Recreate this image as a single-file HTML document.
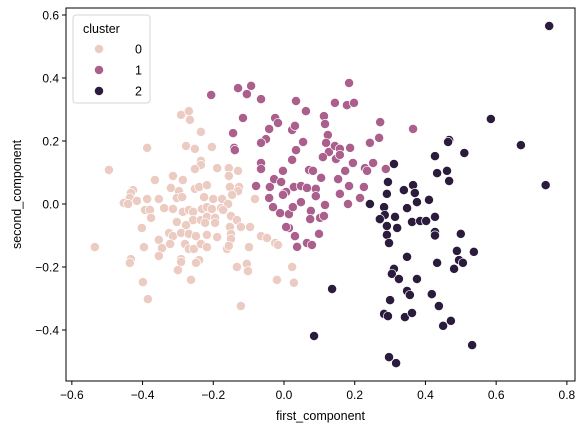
<!DOCTYPE html>
<html><head><meta charset="utf-8"><style>
body{margin:0;background:#fff;}
svg{display:block;font-family:"Liberation Sans","DejaVu Sans",sans-serif;}
</style></head><body>
<svg id="chart" width="584" height="433"></svg>
<script>
const xTicks=[-0.6,-0.4,-0.2,0.0,0.2,0.4,0.6,0.8];
const yTicks=[-0.4,-0.2,0.0,0.2,0.4,0.6];
const clusterLabels=["0","1","2"];
const clusterColors=["#eccbc2","#aa5f8c","#2b1c3d"];
const c0x=[-0.291,-0.269,-0.266,-0.235,-0.387,-0.277,-0.252,-0.204,-0.495,-0.235,-0.235,-0.252,-0.189,-0.156,-0.13,-0.156,-0.314,-0.365,-0.286,-0.32,-0.297,-0.252,-0.24,-0.218,-0.153,-0.127,-0.13,-0.427,-0.433,-0.436,-0.453,-0.441,-0.416,-0.387,-0.354,-0.303,-0.288,-0.226,-0.2,-0.175,-0.147,-0.082,-0.393,-0.379,-0.339,-0.314,-0.286,-0.269,-0.257,-0.232,-0.218,-0.204,-0.178,-0.158,-0.172,-0.376,-0.257,-0.235,-0.218,-0.195,-0.15,-0.133,-0.402,-0.303,-0.277,-0.223,-0.195,-0.153,-0.122,-0.096,-0.325,-0.314,-0.291,-0.269,-0.249,-0.218,-0.189,-0.15,-0.15,-0.354,-0.065,-0.048,-0.535,-0.396,-0.345,-0.322,-0.28,-0.269,-0.255,-0.235,-0.218,-0.161,-0.156,-0.099,-0.025,-0.017,-0.354,-0.433,-0.436,-0.291,-0.291,-0.24,-0.249,-0.133,-0.105,-0.102,-0.3,-0.263,-0.399,-0.02,-0.385,-0.122,0.023,0.028];
const c0y=[0.283,0.295,0.267,0.229,0.178,0.184,0.175,0.181,0.108,0.137,0.124,0.111,0.114,0.114,0.105,0.089,0.089,0.076,0.076,0.051,0.041,0.048,0.054,0.06,0.054,0.054,0.041,0.044,0.035,0.019,0.003,0.0,0.01,0.016,0.016,0.019,0.022,0.022,0.016,0.016,0.029,0.016,-0.019,-0.019,-0.013,-0.016,-0.025,-0.019,-0.025,-0.016,-0.01,-0.016,-0.013,0.0,-0.019,-0.044,-0.051,-0.051,-0.041,-0.044,-0.038,-0.051,-0.076,-0.057,-0.067,-0.06,-0.06,-0.073,-0.073,-0.073,-0.092,-0.102,-0.092,-0.095,-0.102,-0.098,-0.105,-0.095,-0.111,-0.114,-0.102,-0.108,-0.137,-0.137,-0.14,-0.127,-0.127,-0.143,-0.143,-0.127,-0.137,-0.143,-0.133,-0.137,-0.124,-0.13,-0.165,-0.175,-0.187,-0.175,-0.184,-0.178,-0.187,-0.2,-0.19,-0.213,-0.21,-0.241,-0.248,-0.241,-0.302,-0.324,-0.2,-0.25];
const c1x=[-0.206,-0.13,-0.093,-0.105,-0.065,-0.116,-0.144,-0.141,-0.139,-0.065,-0.065,-0.079,-0.04,-0.028,-0.003,-0.042,-0.031,-0.011,0.014,0.025,0.0,0.006,-0.003,0.028,0.048,0.065,0.048,0.071,0.082,0.105,0.09,0.09,0.116,0.076,0.074,0.102,0.113,0.014,0.031,0.037,0.065,0.079,0.099,0.023,0.034,0.054,0.023,0.031,-0.042,-0.051,-0.065,-0.025,-0.017,0.034,0.062,0.113,0.116,0.124,0.119,0.127,0.11,0.144,0.158,0.147,0.158,0.187,0.195,0.173,0.153,0.184,0.158,0.181,0.226,0.229,0.252,0.243,0.269,0.272,0.144,0.178,0.198,0.184,0.365,0.288,0.235,0.215,-0.008,0.006];
const c1y=[0.346,0.368,0.375,0.349,0.333,0.273,0.225,0.178,0.171,0.13,0.111,0.057,0.054,0.079,0.105,0.019,-0.01,-0.029,-0.032,-0.01,0.035,0.038,0.029,0.054,0.057,0.051,0.006,0.108,0.105,0.083,0.048,0.025,-0.003,-0.022,-0.048,-0.044,-0.038,-0.076,-0.102,-0.136,-0.124,-0.13,-0.095,0.14,0.171,0.197,0.235,0.248,0.238,0.206,0.194,0.273,0.257,0.327,0.295,0.279,0.254,0.219,0.194,0.165,0.149,0.184,0.175,0.143,0.156,0.178,0.13,0.105,0.079,0.057,0.032,0.0,0.054,0.114,0.13,0.194,0.21,0.26,0.321,0.314,0.321,0.384,0.238,0.111,0.105,0.019,0.07,-0.073];
const c2x=[0.75,0.585,0.67,0.74,0.467,0.464,0.51,0.427,0.433,0.461,0.467,0.311,0.294,0.365,0.339,0.37,0.291,0.243,0.376,0.41,0.348,0.283,0.285,0.271,0.314,0.362,0.385,0.402,0.427,0.291,0.32,0.291,0.297,0.427,0.427,0.5,0.489,0.537,0.495,0.506,0.481,0.433,0.348,0.311,0.305,0.325,0.376,0.136,0.348,0.356,0.418,0.3,0.438,0.283,0.294,0.342,0.362,0.472,0.45,0.085,0.532,0.297,0.317];
const c2y=[0.565,0.27,0.187,0.06,0.203,0.197,0.162,0.152,0.098,0.105,0.073,0.127,0.07,0.06,0.044,0.035,0.032,0.0,0.006,0.013,-0.013,-0.01,-0.035,-0.048,-0.041,-0.057,-0.054,-0.054,-0.041,-0.07,-0.076,-0.098,-0.124,-0.089,-0.1,-0.095,-0.149,-0.152,-0.178,-0.187,-0.206,-0.187,-0.168,-0.206,-0.222,-0.238,-0.238,-0.27,-0.276,-0.289,-0.286,-0.305,-0.324,-0.349,-0.356,-0.359,-0.346,-0.371,-0.387,-0.419,-0.448,-0.486,-0.505];

const NS="http://www.w3.org/2000/svg";
const svg=document.getElementById('chart');
const L=66,T=8,R=575,B=381;
function sx(v){return 284+v*353.6;}
function sy(v){return 204-v*315;}
function mk(tag,attrs,parent){const e=document.createElementNS(NS,tag);for(const k in attrs)e.setAttribute(k,attrs[k]);(parent||svg).appendChild(e);return e;}

const pts=mk('g',{});


const series=[[c0x,c0y],[c1x,c1y],[c2x,c2y]];
series.forEach((s,ci)=>{
  const g=mk('g',{},pts);
  
  
  s[0].forEach((xv,i)=>{
    const c=mk('circle',{cx:sx(xv),cy:sy(s[1][i]),r:4.6,fill:clusterColors[ci],stroke:'#fff','stroke-width':0.7},g);
    
    
  });
});

const frame=mk('rect',{x:L,y:T,width:R-L,height:B-T,fill:'none',stroke:'#000','stroke-width':1});



xTicks.forEach(t=>{
  const x=sx(t);
  const ln=mk('line',{x1:x,x2:x,y1:B,y2:B+4,stroke:'#000'});
  
  
  const tx=mk('text',{x:x,y:B+18,'text-anchor':'middle','font-size':12,fill:'#000'});
  tx.textContent=t.toFixed(1).replace('-','\u2212');
  
  
});
yTicks.forEach(t=>{
  const y=sy(t);
  const ln=mk('line',{x1:L-4,x2:L,y1:y,y2:y,stroke:'#000'});
  
  
  const tx=mk('text',{x:L-7,y:y+4.5,'text-anchor':'end','font-size':12,fill:'#000'});
  tx.textContent=t.toFixed(1).replace('-','\u2212');
  
  
});
const xl=mk('text',{x:(L+R)/2,y:420,'text-anchor':'middle','font-size':12.5});
xl.textContent='first_component';


const yl=mk('text',{x:0,y:0,'text-anchor':'middle','font-size':12.5,transform:'translate(21,'+((T+B)/2)+') rotate(-90)'});
yl.textContent='second_component';



const leg=mk('g',{});


mk('rect',{x:73,y:15,width:77,height:88,rx:3,fill:'#fff','fill-opacity':0.8,stroke:'#d6d6d6'},leg);
const lt=mk('text',{x:83,y:33,'font-size':12.5},leg);
lt.textContent='cluster';


clusterLabels.forEach((lab,i)=>{
  const y=49+i*21;
  const e=mk('g',{},leg);
  
  
  mk('circle',{cx:99,cy:y,r:4.6,fill:clusterColors[i],stroke:'#fff','stroke-width':0.7},e);
  const t=mk('text',{x:142,y:y+4.5,'text-anchor':'end','font-size':12.5},e);
  t.textContent=lab;
});
</script>
</body></html>
